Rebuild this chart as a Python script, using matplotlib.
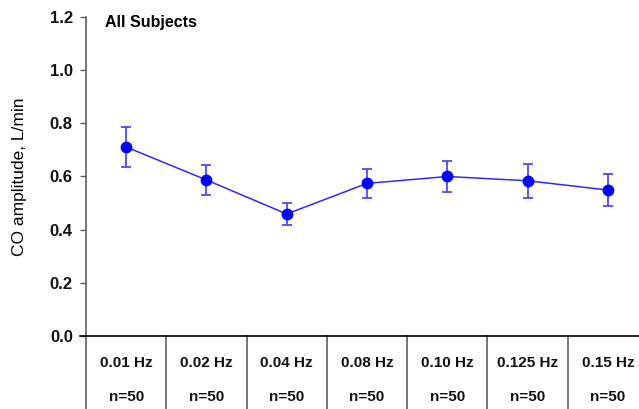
import matplotlib
matplotlib.use("Agg")
import matplotlib.pyplot as plt

# Frequencies, sample sizes and mean CO amplitude (± error) per frequency
freq_labels = ["0.01 Hz", "0.02 Hz", "0.04 Hz", "0.08 Hz", "0.10 Hz", "0.125 Hz", "0.15 Hz"]
n_labels = ["n=50", "n=50", "n=50", "n=50", "n=50", "n=50", "n=50"]
co_amplitude = [0.711, 0.587, 0.459, 0.574, 0.600, 0.584, 0.549]
co_error = [0.077, 0.058, 0.041, 0.056, 0.057, 0.064, 0.060]

plt.rcParams["font.family"] = ["Liberation Sans", "DejaVu Sans"]

W, H = 639, 409
fig = plt.figure(figsize=(W / 100, H / 100), dpi=100)
fig.patch.set_facecolor("white")

left, right, top, bottom = 86, 648, 17, 336
ax = fig.add_axes([left / W, (H - bottom) / H, (right - left) / W, (bottom - top) / H])

x = list(range(len(co_amplitude)))
ax.errorbar(x, co_amplitude, yerr=co_error, fmt="none", ecolor="#4a4aff",
            elinewidth=1.3, capsize=3.5, capthick=1.3, zorder=2)
ax.plot(x, co_amplitude, color="#2b2bff", lw=1.1, zorder=3)
ax.plot(x, co_amplitude, "o", color="#0000ff", ms=7.5, zorder=4)

ax.set_xlim(-0.5, len(x) - 0.5)
ax.set_ylim(0, 1.2)
yticks = [0.0, 0.2, 0.4, 0.6, 0.8, 1.0, 1.2]
ax.set_yticks(yticks)
ax.set_yticklabels([f"{v:.1f}" for v in yticks],
                   fontsize=12, fontweight="bold", color="#111111")
ax.set_xticks([])
ax.tick_params(axis="y", direction="out", length=4.5, width=1.0, color="#606060", pad=5)

for s in ("top", "right"):
    ax.spines[s].set_visible(False)
ax.spines["left"].set_color("#606060")
ax.spines["left"].set_linewidth(1.2)
ax.spines["bottom"].set_color("#000000")
ax.spines["bottom"].set_linewidth(1.2)
ax.spines["bottom"].set_bounds(-0.5 - 6 / 80.3, len(x) - 0.5)

ax.set_ylabel("CO amplitude, L/min", fontsize=12.5)
ax.yaxis.set_label_coords((27 - left) / (right - left), 0.5)

ax.text((105 - left) / (right - left), 1 - (22 - top) / (bottom - top), "All Subjects",
        transform=ax.transAxes, fontsize=11.5, fontweight="bold", va="center", ha="left")

# Category table beneath the axis
trans = ax.get_xaxis_transform()
span = bottom - top
y_freq = -(363 - bottom) / span
y_n = -(397 - bottom) / span
y_end = -(H - bottom + 2) / span
for i in range(len(x) + 1):
    ax.plot([i - 0.5, i - 0.5], [0, y_end], transform=trans, color="#606060",
            lw=1.2, clip_on=False)
for i, (f, n) in enumerate(zip(freq_labels, n_labels)):
    ax.text(i, y_freq, f, transform=trans, ha="center", va="center",
            fontsize=11, fontweight="bold", color="#111111")
    ax.text(i, y_n, n, transform=trans, ha="center", va="center",
            fontsize=11, fontweight="bold", color="#111111")

fig.savefig("out.png", dpi=100)
